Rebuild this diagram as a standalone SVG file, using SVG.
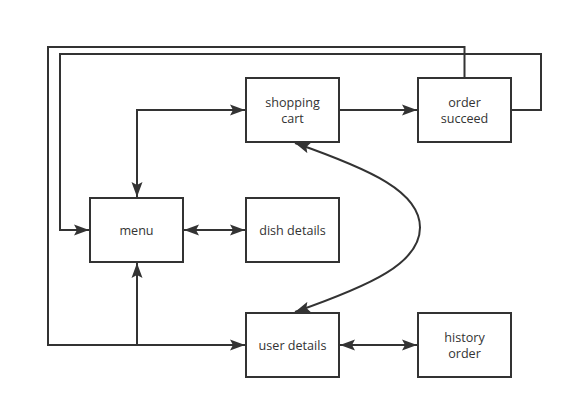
<svg xmlns="http://www.w3.org/2000/svg" width="573" height="409" viewBox="0 0 573 409">
<style>
.box{fill:#ffffff;stroke:#333333;stroke-width:2}
.ln{fill:none;stroke:#333333;stroke-width:2}
.t{font-family:"Open Sans","Noto Sans",sans-serif;font-size:12.6px;fill:#333333;text-anchor:middle}
</style>
<defs>
<marker id="ah" markerUnits="userSpaceOnUse" markerWidth="16" markerHeight="12" refX="15" refY="5.5" orient="auto-start-reverse" viewBox="0 0 16 11">
<path d="M0,0 L15,5.5 L0,11 L3,5.5 Z" fill="#333333"/>
</marker>
</defs>
<g id="connectors">
<path class="ln" d="M464.5,78 V47 H48 V345 H245" marker-end="url(#ah)"/>
<path class="ln" d="M511,110 H541 V54 H60 V230 H89" marker-end="url(#ah)"/>
<path class="ln" d="M137,345 V263" marker-end="url(#ah)"/>
<path class="ln" d="M137,197 V110 H245" marker-start="url(#ah)" marker-end="url(#ah)"/>
<path class="ln" d="M184,230 H245" marker-start="url(#ah)" marker-end="url(#ah)"/>
<path class="ln" d="M339,110 H417" marker-end="url(#ah)"/>
<path class="ln" d="M340,345 H417" marker-start="url(#ah)" marker-end="url(#ah)"/>
<path class="ln" d="M295,143 C372,170 420,192 420,227.5 C420,263 372,285 295,312" marker-start="url(#ah)" marker-end="url(#ah)"/>
</g>
<g id="menu"><rect class="box" x="90" y="198" width="93" height="64"/><text class="t" x="136.5" y="234.5">menu</text></g>
<g id="shopping-cart"><rect class="box" x="246" y="78" width="93" height="64"/><text class="t" x="292.5" y="106.5">shopping</text><text class="t" x="292.5" y="122.5">cart</text></g>
<g id="dish-details"><rect class="box" x="246" y="198" width="93" height="64"/><text class="t" x="292.5" y="234.5">dish details</text></g>
<g id="order-succeed"><rect class="box" x="418" y="78" width="93" height="64"/><text class="t" x="464.5" y="106.5">order</text><text class="t" x="464.5" y="122.5">succeed</text></g>
<g id="user-details"><rect class="box" x="246" y="313" width="93" height="64"/><text class="t" x="292.5" y="349.5">user details</text></g>
<g id="history-order"><rect class="box" x="418" y="313" width="93" height="64"/><text class="t" x="464.5" y="341.5">history</text><text class="t" x="464.5" y="357.5">order</text></g>
</svg>
